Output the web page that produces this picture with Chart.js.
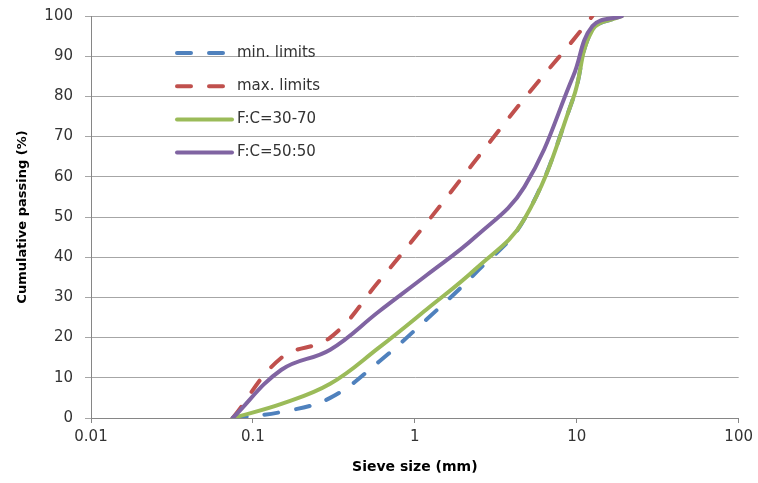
<!DOCTYPE html>
<html>
<head>
<meta charset="utf-8">
<script src="https://cdn.jsdelivr.net/npm/chart.js@4.4.0/dist/chart.umd.min.js"></script>
<style>
html, body { margin: 0; padding: 0; background: #fff; }
#wrap { width: 758px; height: 483px; }
</style>
</head>
<body>
<div id="wrap"><canvas id="gradingChart" width="758" height="483"></canvas></div>
<script>
// sieve openings (mm) and cumulative % passing for each curve
const sieveSizes = [0.075, 0.15, 0.3, 0.6, 1.18, 2.36, 4.75, 9.5, 12.5, 19];
const minLimits  = [0, 1.5, 5, 14, 24.5, 36, 49.5, 79.5, 96.5, 100];
const maxLimits  = [0, 15, 20, 34, 48.5, 64, 79.5, 94, 100, null];
const mixFC3070  = [0, 3.5, 8.5, 17.5, 27, 37, 49.5, 79.5, 96.5, 100];
const mixFC5050  = [0, 12, 17, 26.5, 35.5, 45, 57.5, 85, 97.5, 100];
const xTickValues = [0.01, 0.1, 1, 10, 100];

const FONT = "'DejaVu Sans', sans-serif";

function toPoints(values){
    return sieveSizes
        .map((s, i) => ({x: s, y: values[i]}))
        .filter(p => p.y !== null);
}

function curve(label, values, color, dash, order){
    return {
        label: label,
        data: toPoints(values),
        borderColor: color,
        backgroundColor: color,
        borderWidth: 4,
        borderDash: dash,
        borderCapStyle: 'round',
        pointRadius: 0,
        tension: 0.4,
        fill: false,
        order: order   // lowest order ends up on top
    };
}

// legend drawn inside the plot, top-left
const insideLegend = {
    id: 'insideLegend',
    afterDatasetsDraw(chart){
        const ctx = chart.ctx;
        const x0 = 175, x1 = 232, textX = 237;
        const top = 53, gap = 33.2;
        ctx.save();
        chart.data.datasets.forEach((ds, i) => {
            let y = top + i * gap;
            ctx.beginPath();
            ctx.strokeStyle = ds.borderColor;
            ctx.lineWidth = ds.borderWidth;
            ctx.lineCap = 'round';
            ctx.setLineDash(ds.borderDash || []);
            let end = ds.borderDash.length ? x1 - 6 : x1;
            ctx.moveTo(x0 + 2, y);
            ctx.lineTo(end, y);
            ctx.stroke();
            ctx.setLineDash([]);
            ctx.fillStyle = '#333';
            ctx.font = "15px " + FONT;
            ctx.textBaseline = 'middle';
            ctx.textAlign = 'left';
            ctx.fillText(ds.label, textX, y);
        });
        ctx.restore();
    }
};

let ctx = document.getElementById("gradingChart").getContext("2d");
let chart = new Chart(ctx, {
    type: 'line',
    data: {
        datasets: [
            curve("min. limits", minLimits, '#4F81BD', [14, 18], 3),
            curve("max. limits", maxLimits, '#C0504D', [14, 18], 2),
            curve("F:C=30-70", mixFC3070, '#9BBB59', [], 1),
            curve("F:C=50:50", mixFC5050, '#8064A2', [], 0)
        ]
    },
    options: {
        responsive: false,
        animation: false,
        devicePixelRatio: 1,
        layout: { padding: { top: 16, right: 19, bottom: 0, left: 0 } },
        plugins: {
            legend: { display: false },
            tooltip: { enabled: false }
        },
        scales: {
            x: {
                type: 'logarithmic',
                min: 0.01,
                max: 100,
                afterBuildTicks(scale){
                    scale.ticks = xTickValues.map(v => ({value: v}));
                },
                afterFit(scale){ scale.height = 65; },
                ticks: {
                    autoSkip: false,
                    maxRotation: 0,
                    padding: 5,
                    color: '#333',
                    font: { family: FONT, size: 15 },
                    callback: v => String(v)
                },
                grid: { drawOnChartArea: false, color: '#868686', tickLength: 5 },
                border: { color: '#868686', width: 1 },
                title: {
                    display: true,
                    text: 'Sieve size (mm)',
                    color: '#000',
                    font: { family: FONT, size: 14, weight: 'bold' },
                    padding: { top: 0, bottom: 7 }
                }
            },
            y: {
                min: 0,
                max: 100,
                afterFit(scale){
                    scale.width = 91;
                    scale.paddingTop = 0;
                },
                ticks: {
                    stepSize: 10,
                    padding: 12,
                    color: '#333',
                    font: { family: FONT, size: 15 }
                },
                grid: { color: '#a6a6a6', tickLength: 6 },
                border: { color: '#868686', width: 1 },
                title: {
                    display: true,
                    text: 'Cumulative passing (%)',
                    color: '#000',
                    font: { family: FONT, size: 13, weight: 'bold' },
                    padding: { top: 15, bottom: 0 }
                }
            }
        }
    },
    plugins: [insideLegend]
});
</script>
</body>
</html>
